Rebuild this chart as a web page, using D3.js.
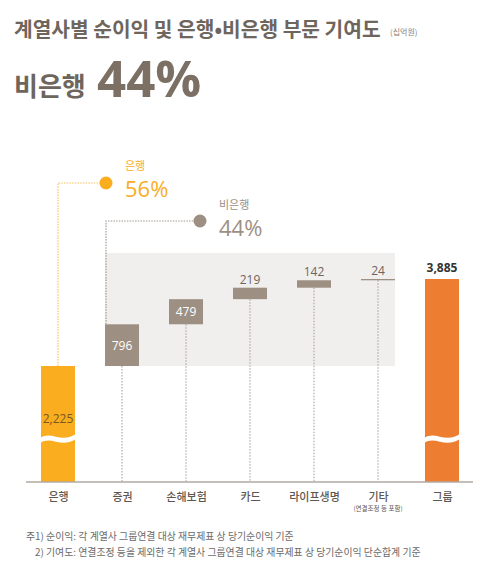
<!DOCTYPE html>
<html>
<head>
<meta charset="utf-8">
<script src="https://cdn.jsdelivr.net/npm/d3@7"></script>
<style>
  body { margin: 0; background: #fff; }
  svg { display: block; font-family: "Noto Sans CJK KR", "Noto Sans", sans-serif; }
</style>
</head>
<body>
<div id="chart"></div>
<script>
const categories = ['은행', '증권', '손해보험', '카드', '라이프생명', '기타', '그룹'];
const bankValue = 2225;
const nonBankValues = [796, 479, 219, 142, 24];
const groupValue = 3885;
const shareLabels = [
  { name: '은행', pct: '56%' },
  { name: '비은행', pct: '44%' }
];
const notes = [
  '주1) 순이익: 각 계열사 그룹연결 대상 재무제표 상 당기순이익 기준',
  '2) 기여도: 연결조정 등을 제외한 각 계열사 그룹연결 대상 재무제표 상 당기순이익 단순합계 기준'
];

const width = 480, height = 566;
const axisY = 482;
const orange = '#f9ad1f', groupOrange = '#ed7d31', taupe = '#9d9083', textGrey = '#6e655c';

const svg = d3.select('#chart').append('svg')
  .attr('width', width)
  .attr('height', height);

// title
svg.append('text')
  .attr('x', 14).attr('y', 37)
  .attr('fill', textGrey)
  .style('font-size', '20.3px').style('font-weight', '700')
  .text('계열사별 순이익 및 은행•비은행 부문 기여도');
svg.append('text')
  .attr('x', 390).attr('y', 35)
  .attr('fill', '#8a827a')
  .style('font-size', '8px')
  .text('(십억원)');
svg.append('text')
  .attr('x', 14).attr('y', 96)
  .attr('fill', textGrey)
  .style('font-size', '26px').style('font-weight', '700')
  .text('비은행');
svg.append('text')
  .attr('x', 97).attr('y', 97)
  .attr('fill', '#7c7065')
  .style('font-size', '51px').style('font-weight', '700')
  .style('font-family', '"Open Sans", "Noto Sans", sans-serif')
  .text('44%');

// scales (the value axis is broken between 0 and the bank bar)
const x = d3.scalePoint().domain(categories).range([58, 442]);
const y = d3.scaleLinear().domain([bankValue, groupValue]).range([366, 279]);
const bw = 34;

// waterfall steps
let run = bankValue;
const steps = nonBankValues.map((v, i) => {
  const s = { cat: categories[i + 1], v, start: run, end: run + v };
  run += v;
  return s;
});

// grey panel behind the non-bank steps
svg.append('rect')
  .attr('x', x(categories[1]) - bw / 2)
  .attr('width', x(categories[5]) + bw / 2 - (x(categories[1]) - bw / 2))
  .attr('y', 253)
  .attr('height', y(bankValue) - 253)
  .attr('fill', '#f1efee');

// dotted drop lines
svg.append('g')
  .attr('stroke', '#a39a92')
  .attr('stroke-width', 1)
  .attr('stroke-dasharray', '1.5,1.5')
  .selectAll('line')
  .data(steps)
  .join('line')
  .attr('x1', d => x(d.cat)).attr('x2', d => x(d.cat))
  .attr('y1', d => y(d.start)).attr('y2', axisY);

// connectors to share labels
const bankDot = { x: 106, y: 183 };
const nonDot = { x: 200, y: 221 };
svg.append('path')
  .attr('d', `M${x(categories[0])},${y(bankValue)}V${bankDot.y}H${bankDot.x}`)
  .attr('fill', 'none')
  .attr('stroke', '#fbc35e')
  .attr('stroke-width', 1.2)
  .attr('stroke-dasharray', '1.5,1.2');
svg.append('path')
  .attr('d', `M${x(categories[1]) - bw / 2 + 1},${y(steps[0].end)}V${nonDot.y}H${nonDot.x}`)
  .attr('fill', 'none')
  .attr('stroke', '#a39a92')
  .attr('stroke-width', 1.2)
  .attr('stroke-dasharray', '1.5,1.2');
svg.append('circle').attr('cx', bankDot.x).attr('cy', bankDot.y).attr('r', 6.5).attr('fill', orange);
svg.append('circle').attr('cx', nonDot.x).attr('cy', nonDot.y).attr('r', 6.5).attr('fill', taupe);

[[shareLabels[0], 125, 170, orange], [shareLabels[1], 219, 209, taupe]].forEach(([d, lx, ly, c]) => {
  svg.append('text').attr('x', lx).attr('y', ly).attr('fill', c)
    .style('font-size', '11px').text(d.name);
  svg.append('text').attr('x', lx).attr('y', ly + 27).attr('fill', c)
    .style('font-size', '22px')
    .style('font-family', '"Open Sans", "Noto Sans", sans-serif')
    .text(d.pct);
});

// step boxes
svg.append('g')
  .selectAll('rect')
  .data(steps)
  .join('rect')
  .attr('x', d => x(d.cat) - bw / 2)
  .attr('width', bw)
  .attr('y', d => y(d.end))
  .attr('height', d => Math.max(1.3, y(d.start) - y(d.end)))
  .attr('fill', taupe);

svg.append('g')
  .selectAll('text')
  .data(steps)
  .join('text')
  .attr('x', d => x(d.cat))
  .attr('y', d => d.v > 400 ? (y(d.start) + y(d.end)) / 2 + 4.5 : y(d.end) - 4)
  .attr('text-anchor', 'middle')
  .attr('fill', d => d.v > 400 ? '#fff' : textGrey)
  .style('font-size', '12px')
  .style('font-family', '"Open Sans", "Noto Sans", sans-serif')
  .text(d => d3.format(',')(d.v));

// bank and group bars
const totals = [
  { cat: categories[0], v: bankValue, color: orange },
  { cat: categories[6], v: groupValue, color: groupOrange }
];
svg.append('g')
  .selectAll('rect')
  .data(totals)
  .join('rect')
  .attr('x', d => x(d.cat) - bw / 2)
  .attr('width', bw)
  .attr('y', d => y(d.v))
  .attr('height', d => axisY - y(d.v))
  .attr('fill', d => d.color);

// axis break waves
totals.forEach(d => {
  const x0 = x(d.cat) - bw / 2 - 1, x1 = x(d.cat) + bw / 2 + 1, yb = 438;
  svg.append('path')
    .attr('d', `M${x0},${yb}C${x0 + 12},${yb - 8} ${x1 - 16},${yb + 6} ${x1},${yb - 4}L${x1},${yb + 1}C${x1 - 16},${yb + 11} ${x0 + 12},${yb - 3} ${x0},${yb + 5}Z`)
    .attr('fill', '#fff');
});

svg.append('text')
  .attr('x', x(categories[0])).attr('y', 423)
  .attr('text-anchor', 'middle')
  .attr('fill', '#7a5a22')
  .style('font-size', '12px')
  .style('font-family', '"Open Sans", "Noto Sans", sans-serif')
  .text(d3.format(',')(bankValue));
svg.append('text')
  .attr('x', x(categories[6])).attr('y', 272)
  .attr('text-anchor', 'middle')
  .attr('fill', '#333')
  .style('font-size', '12px').style('font-weight', '700')
  .style('font-family', '"Open Sans", "Noto Sans", sans-serif')
  .text(d3.format(',')(groupValue));

// axis
const axis = svg.append('g')
  .attr('transform', `translate(0,${axisY})`)
  .call(d3.axisBottom(x).tickSize(0).tickPadding(11));
axis.select('.domain').remove();
axis.append('line')
  .attr('x1', 26).attr('x2', 473)
  .attr('stroke', '#b3aaa2').attr('stroke-width', 1.5);
axis.selectAll('.tick text')
  .attr('fill', '#5e5750')
  .style('font-size', '11px').style('font-weight', '500')
  .style('font-family', '"Noto Sans CJK KR", sans-serif');
svg.append('text')
  .attr('x', x(categories[5])).attr('y', 511)
  .attr('text-anchor', 'middle')
  .attr('fill', '#5e5750')
  .style('font-size', '6.5px')
  .text('(연결조정 등 포함)');

// notes
svg.append('g')
  .selectAll('text')
  .data(notes)
  .join('text')
  .attr('x', (d, i) => i === 0 ? 26 : 35)
  .attr('y', (d, i) => 540 + i * 16)
  .attr('fill', '#6a6a6a')
  .style('font-size', '9.9px')
  .text(d => d);
</script>
</body>
</html>
